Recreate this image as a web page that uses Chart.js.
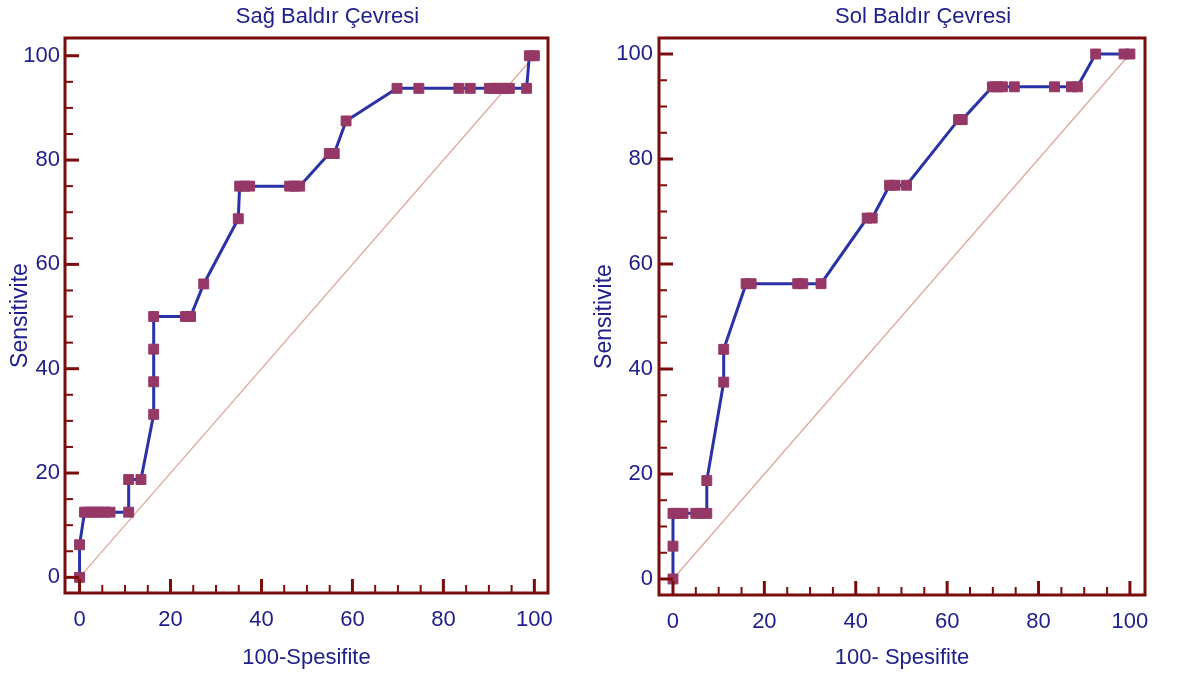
<!DOCTYPE html>
<html>
<head>
<meta charset="utf-8">
<script src="https://cdn.jsdelivr.net/npm/chart.js@4"></script>
<style>
  body { margin: 0; background: #fff; }
  .wrap { position: absolute; top: 0; height: 677px; }
  #w1 { left: 0; width: 590px; }
  #w2 { left: 590px; width: 588px; }
</style>
</head>
<body>
<div class="wrap" id="w1"><canvas id="c1"></canvas></div>
<div class="wrap" id="w2"><canvas id="c2"></canvas></div>
<script>
// Sağ Baldır Çevresi (100-Spesifite, Sensitivite)
const sagX = [0, 0, 1.1, 2.2, 3.3, 4.4, 5.6, 6.7, 10.8, 10.8, 13.5, 16.3, 16.3, 16.3, 16.3, 23.3, 24.4, 27.3, 34.9,
  35.2, 36.3, 37.4, 46.2, 47.3, 48.4, 54.9, 56.0, 58.6, 69.8, 74.6, 83.4, 85.9, 90.1, 91.2, 92.3, 93.4, 94.5, 98.3, 98.9, 100];
const sagY = [0, 6.25, 12.5, 12.5, 12.5, 12.5, 12.5, 12.5, 12.5, 18.75, 18.75, 31.25, 37.5, 43.75, 50, 50, 50, 56.25, 68.75,
  75, 75, 75, 75, 75, 75, 81.25, 81.25, 87.5, 93.75, 93.75, 93.75, 93.75, 93.75, 93.75, 93.75, 93.75, 93.75, 93.75, 100, 100];

// Sol Baldır Çevresi
const solX = [0, 0, 0, 1.1, 2.2, 5.0, 6.1, 7.4, 7.4, 11.1, 11.1, 16.0, 17.1, 27.3, 28.4, 32.4, 42.5, 43.6,
  47.4, 48.6, 51.1, 62.5, 63.3, 69.9, 71.0, 72.1, 74.7, 83.5, 87.2, 88.5, 92.5, 98.7, 100];
const solY = [0, 6.25, 12.5, 12.5, 12.5, 12.5, 12.5, 12.5, 18.75, 37.5, 43.75, 56.25, 56.25, 56.25, 56.25, 56.25, 68.75, 68.75,
  75, 75, 75, 87.5, 87.5, 93.75, 93.75, 93.75, 93.75, 93.75, 93.75, 93.75, 100, 100, 100];

const diagX = [0, 100];
const diagY = [0, 100];
const tickValues = [0, 20, 40, 60, 80, 100];
const minorStep = 5;

const textColor = '#20208c';
const axisColor = '#7b0c0c';
const fontFamily = '"Liberation Sans", Arial, sans-serif';

const framePlugin = {
  id: 'frame',
  afterDraw(chart, args, opts) {
    const { ctx, chartArea: a } = chart;
    const x = chart.scales.x, y = chart.scales.y;
    ctx.save();
    ctx.strokeStyle = axisColor;
    ctx.lineWidth = 3;
    ctx.strokeRect(a.left, a.top, a.right - a.left, a.bottom - a.top);
    for (let v = 0; v <= 100; v += minorStep) {
      const major = tickValues.includes(v);
      const len = major ? 14 : 8;
      ctx.lineWidth = major ? 3 : 2;
      const px = x.getPixelForValue(v);
      ctx.beginPath(); ctx.moveTo(px, a.bottom); ctx.lineTo(px, a.bottom - len); ctx.stroke();
      const py = y.getPixelForValue(v);
      ctx.beginPath(); ctx.moveTo(a.left, py); ctx.lineTo(a.left + len, py); ctx.stroke();
    }
    ctx.fillStyle = textColor;
    ctx.font = '22px ' + fontFamily;
    ctx.textAlign = 'center';
    ctx.textBaseline = 'middle';
    ctx.fillText(opts.text, (a.left + a.right) / 2 + opts.shift, 17);
    ctx.restore();
  }
};

function makeChart(id, xs, ys, cfg) {
  const pts = xs.map((v, i) => ({ x: v, y: ys[i] }));
  const diag = diagX.map((v, i) => ({ x: v, y: diagY[i] }));
  return new Chart(document.getElementById(id), {
    type: 'scatter',
    data: {
      datasets: [{
        data: pts,
        showLine: true,
        borderColor: '#2a32a6',
        borderWidth: 3,
        pointStyle: 'rect',
        pointRadius: 7,
        pointBackgroundColor: '#963866',
        pointBorderColor: '#963866',
        pointBorderWidth: 1
      }, {
        data: diag,
        showLine: true,
        borderColor: '#dca59b',
        borderWidth: 1.2,
        pointRadius: 0
      }]
    },
    options: {
      responsive: true,
      maintainAspectRatio: false,
      animation: false,
      layout: { padding: { left: 0, top: 38, right: cfg.padRight, bottom: 0 } },
      plugins: {
        legend: { display: false },
        tooltip: { enabled: false },
        frame: { text: cfg.title, shift: 21 }
      },
      scales: {
        x: {
          type: 'linear',
          min: cfg.xMin, max: cfg.xMax,
          afterBuildTicks: s => { s.ticks = tickValues.map(v => ({ value: v })); },
          afterFit: s => { s.height = cfg.xHeight; },
          grid: { display: false, drawTicks: false },
          border: { display: false },
          ticks: { color: textColor, font: { size: 22, family: fontFamily }, padding: 14, maxRotation: 0, autoSkip: false },
          title: { display: true, text: cfg.xTitle, color: textColor, font: { size: 22, family: fontFamily }, padding: { top: 0, bottom: 6 } }
        },
        y: {
          type: 'linear',
          min: cfg.yMin, max: cfg.yMax,
          afterBuildTicks: s => { s.ticks = tickValues.map(v => ({ value: v })); },
          afterFit: s => { s.width = cfg.yWidth; },
          grid: { display: false, drawTicks: false },
          border: { display: false },
          ticks: { color: textColor, font: { size: 22, family: fontFamily }, padding: cfg.yTickPad, autoSkip: false },
          title: { display: true, text: 'Sensitivite', color: textColor, font: { size: 23, family: fontFamily }, padding: { top: cfg.yTitlePad, bottom: 0 } }
        }
      }
    },
    plugins: [framePlugin]
  });
}

makeChart('c1', sagX, sagY, {
  title: 'Sağ Baldır Çevresi', xTitle: '100-Spesifite',
  xMin: -3.2, xMax: 103, yMin: -3, yMax: 103.4,
  padRight: 42, xHeight: 84, yWidth: 65, yTickPad: 5, yTitlePad: 7
});
makeChart('c2', solX, solY, {
  title: 'Sol Baldır Çevresi', xTitle: '100- Spesifite',
  xMin: -3.06, xMax: 103.3, yMin: -3.05, yMax: 103.05,
  padRight: 33, xHeight: 82, yWidth: 69, yTickPad: 6, yTitlePad: 1
});
</script>
</body>
</html>
